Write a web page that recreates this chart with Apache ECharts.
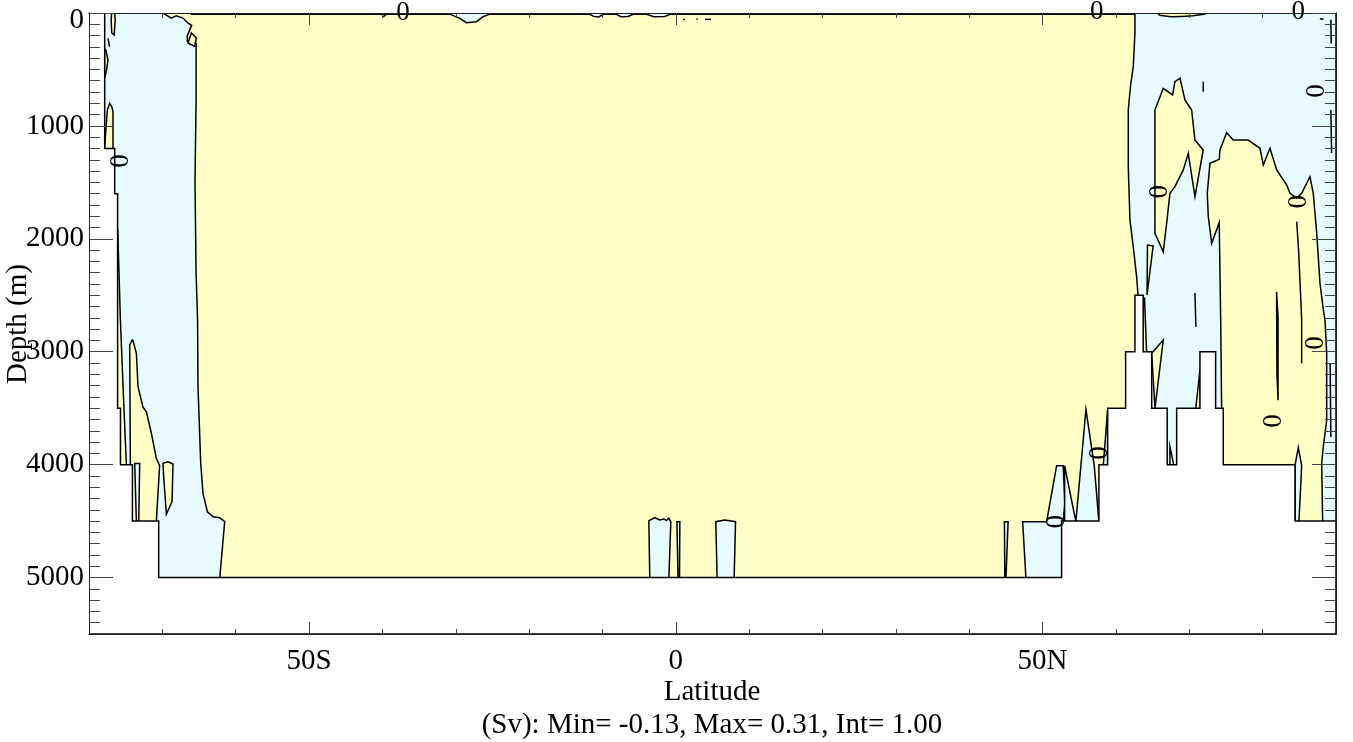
<!DOCTYPE html>
<html><head><meta charset="utf-8">
<script src="https://cdn.jsdelivr.net/npm/echarts@6/dist/echarts.min.js"></script>
<style>html,body{margin:0;padding:0;background:#fff}#c{width:1353px;height:742px}</style>
</head><body><div id="c"></div>
<script>
// ---------- axis ticks ----------
const xTickMajor = [-50, 0, 50];
const xTickMinor = [-70, -60, -40, -30, -20, -10, 10, 20, 30, 40, 60, 70, 80];
const yTickMajor = [0, 1000, 2000, 3000, 4000, 5000];
const yTickMinor = [100,200,300,400,500,600,700,800,900,1100,1200,1300,1400,1500,1600,1700,1800,1900,
  2100,2200,2300,2400,2500,2600,2700,2800,2900,3100,3200,3300,3400,3500,3600,3700,3800,3900,
  4100,4200,4300,4400,4500,4600,4700,4800,4900,5100,5200,5300,5400];

// ---------- bathymetry (latitude cell edges, bottom depth per cell) ----------
const bathyEdges  = [-80, -77.86, -76.5, -76.1, -75.71, -74.08, -70.5, 52.59, 57.68, 58.87, 61.32, 62.59, 63.72, 64.87, 66.99, 68.28, 71.45, 73.59, 74.63, 84.41, 90];
const bathyDepths = [0, 1200, 1600, 3500, 4000, 4500, 5000, 4500, 4000, 3500, 3000, 2500, 3000, 3500, 4000, 3500, 3000, 3500, 4000, 4500];

// ---------- negative (cyan) regions: [lat, depth] ----------
const surfaceLayer = [[-66.0,0],[62.59,0],[62.59,10],[-0.8,12],[-1.5,30],[-3.0,33],[-4.0,12],[-5.82,12],[-6.5,30],[-7.5,33],[-8.09,12],
  [-9.91,12],[-10.5,35],[-11.2,30],[-11.73,12],[-25.36,10],[-26.28,33],[-27.18,77],[-28.54,86],[-29.45,47],[-30.82,10],[-66.0,10]];
const cyanSouth = [[-80,0],[-69.9,0],[-68.8,45],[-68.1,25],[-67.2,45],[-66.5,90],[-66.0,110],[-66.6,200],[-66.6,250],[-66.0,265],
  [-65.4,270],[-65.4,770],[-65.55,1500],[-65.4,2300],[-65.2,2719],[-65.14,3310],[-64.77,3988],[-64.46,4254],[-63.86,4417],
  [-63.09,4461],[-62.18,4470],[-61.5,4505],[-62.18,5007],[-62.18,5100],[-80,5100]];
const cyanNorth = [[62.59,0],[62.59,180],[62.36,476],[62.0,638],[61.68,859],[61.68,1361],[61.91,1833],[62.36,2070],[62.82,2335],
  [63.04,2527],[63.72,2527],[63.72,4600],[90,4600],[90,0]];
const cyanBottom1 = [[-3.55,5007],[-3.68,4496],[-2.86,4470],[-2.18,4490],[-1.64,4481],[-1.27,4496],[-0.95,4475],[-0.68,4505],[-0.95,5007]];
const cyanBottom2 = [[0.15,4505],[0.55,4505],[0.5,5007],[0.3,5007]];
const cyanBottom3 = [[5.63,5007],[5.45,4505],[6.68,4490],[8.14,4505],[7.95,5007]];
const cyanBottom4 = [[44.8,4505],[45.3,4505],[45.0,5007],[44.85,5007]];
const cyanBottom5 = [[47.28,4505],[50.55,4505],[51.91,4009],[52.81,4009],[53.04,4342],[52.8,4505],[52.8,5100],[47.73,5007]];
const cyanSpikes = [[53.0,4009],[54.54,4505],[55.91,3510],[57.04,4009],[57.68,4505],[58.87,3510],[58.87,4600],[53.0,4600]];
const cyanInTongue = [[-73.77,3990],[-73.09,3990],[-73.22,4505],[-73.54,4505]];
const cyanSpike84 = [[84.41,4009],[84.86,3847],[85.32,4009],[84.95,4505],[84.45,4505]];
const cyanLens82 = [[81.9,2470],[82.1,2700],[82.1,3430],[81.95,3200]];

// ---------- positive (yellow) patches inside negative regions ----------
const yellowS1 = [[-76.91,0],[-76.5,0],[-76.43,62],[-76.57,195],[-76.9,177],[-76.98,62]];
const yellowS2 = [[-77.9,313],[-77.7,330],[-77.41,416],[-77.6,500],[-77.8,564],[-77.9,564]];
const yellowS3 = [[-77.9,1213],[-77.5,860],[-77.18,800],[-76.9,830],[-76.73,874],[-76.73,1213]];
const yellowS4 = [[-76.3,1922],[-76.09,1922],[-75.72,2719],[-75.3,3400],[-74.9,4009],[-76.3,4009]];
const yellowS5 = [[-74.45,2940],[-74.1,2896],[-74.0,2902],[-73.54,3014],[-73.32,3310],[-72.64,3492],[-72.18,3531],[-71.5,3722],
  [-70.82,3944],[-70.37,4009],[-70.82,4505],[-74.6,4505],[-74.36,4009]];
const yellowS6 = [[-69.91,3988],[-69.23,3974],[-68.55,3994],[-68.68,4328],[-69.45,4437],[-69.82,4107]];
const yellowS7 = [[-66.04,177],[-65.36,221],[-65.6,296],[-66.5,266]];
const yellowNTop = [[65.6,0],[72.5,0],[72,12],[70.5,25],[69,30],[67.5,33],[66.0,20]];
const yellowN1 = [[65.32,859],[66.45,667],[67.73,726],[68.04,608],[68.73,578],[69.41,770],[70.32,859],[70.77,1125],[71.9,1213],
  [70.77,1627],[69.86,1243],[69.18,1390],[68.04,1538],[67.36,1597],[66.91,1863],[66.45,2114],[65.32,1951]];
const yellowN2 = [[72.82,1331],[74.08,1296],[74.18,1213],[75.09,1060],[75.99,1125],[78.04,1125],[79.63,1198],[80.09,1346],
  [81.0,1198],[81.91,1390],[83.28,1523],[83.72,1597],[84.64,1638],[85.32,1597],[86.45,1450],[86.9,1597],[87.37,1951],
  [87.82,2394],[88.27,2630],[88.5,2719],[88.73,3014],[88.73,3605],[88.27,3841],[88.05,3988],[88.18,4505],[88.18,4600],
  [74.41,4600],[74.41,3510],[74.28,2719],[74.08,1857],[73.05,2040],[72.59,1804],[72.45,1597]];
const yellowN3 = [[64.3,2055],[65.07,2063],[64.24,2497]];
const yellowN4 = [[63.72,2527],[63.9,2527],[64.18,3014],[63.72,3014]];
const yellowN5 = [[64.87,3014],[66.45,2896],[65.32,3501]];
const yellowN6 = [[70.87,3510],[71.45,3162],[71.55,3510]];
const yellowN7 = [[67.36,3841],[67.9,4009],[67.36,4009]];

// ---------- isolated contour pieces ----------
const contourPieces = [
  [[84.64,1848],[84.9,2100],[85.32,2719],[85.32,3103]],
  [[70.77,2480],[70.9,2780]],
  [[-77.41,224],[-77.2,298]],
  [[71.9,608],[71.9,697]],
  [[89.3,60],[89.35,270]],
  [[89.3,860],[89.4,1240]],
  [[87.8,50],[88.3,55]],
  [[89.2,3100],[89.3,3755]],
  [[1.0,55],[1.2,62]],
  [[2.8,53],[3.0,53]],
  [[4.0,56],[4.8,56]],
  [[-39.9,35],[-39.4,8]]
];

// ---------- contour labels [lat, depth, rotated(1/0)] ----------
const zeroLabels = [[-37.2,-4,0],[57.37,-12,0],[84.86,-12,0],
  [-75.68,1311,1],[66.0,1583,1],[87.4,690,1],[84.95,1671,1],[87.27,2923,1],[81.55,3614,1],[57.82,3897,1],[51.9,4505,1]];

// ---------------------------------------------------------------
const YEL = '#ffffc6', CYA = '#e7fbff';
const landPts = [[-80, 5500]];
for (let i = 0; i < bathyDepths.length; i++) {
  landPts.push([bathyEdges[i], bathyDepths[i]]);
  landPts.push([bathyEdges[i + 1], bathyDepths[i]]);
}
landPts.push([90, 5500]);

const layers = [
  {pts: [[-80,0],[90,0],[90,5500],[-80,5500]], fill: YEL, stroke: null},
  {pts: surfaceLayer, fill: CYA},
  {pts: cyanSouth, fill: CYA},
  {pts: cyanNorth, fill: CYA},
  {pts: cyanBottom1, fill: CYA},
  {pts: cyanBottom2, fill: CYA},
  {pts: cyanBottom3, fill: CYA},
  {pts: cyanBottom4, fill: CYA},
  {pts: cyanBottom5, fill: CYA},
  {pts: cyanSpikes, fill: CYA},
  {pts: yellowS1, fill: YEL}, {pts: yellowS2, fill: YEL}, {pts: yellowS3, fill: YEL},
  {pts: yellowS4, fill: YEL}, {pts: yellowS5, fill: YEL}, {pts: yellowS6, fill: YEL}, {pts: yellowS7, fill: YEL},
  {pts: yellowNTop, fill: YEL}, {pts: yellowN1, fill: YEL}, {pts: yellowN2, fill: YEL},
  {pts: yellowN3, fill: YEL}, {pts: yellowN4, fill: YEL}, {pts: yellowN5, fill: YEL},
  {pts: yellowN6, fill: YEL}, {pts: yellowN7, fill: YEL},
  {pts: cyanInTongue, fill: CYA}, {pts: cyanSpike84, fill: CYA}, {pts: cyanLens82, fill: CYA}
];
contourPieces.forEach(p => layers.push({pts: p, line: true}));
layers.push({pts: landPts, fill: '#ffffff'});

const FONT = '"Liberation Serif", "DejaVu Serif", serif';
const chart = echarts.init(document.getElementById('c'), null, {renderer: 'canvas'});

function xAx(pos, vals, len, labels) {
  return {type: 'value', min: -80, max: 90, position: pos, z: 10,
    axisLine: {show: true, onZero: false, lineStyle: {color: '#222', width: 1}},
    axisTick: {show: true, inside: true, length: len, customValues: vals, lineStyle: {color: '#444', width: 1}},
    axisLabel: labels ? {show: true, customValues: vals, margin: 13, color: '#000', fontFamily: FONT, fontSize: 29,
      formatter: v => v < 0 ? (-v) + 'S' : (v > 0 ? v + 'N' : '0')} : {show: false},
    splitLine: {show: false}};
}
function yAx(pos, vals, len, labels) {
  return {type: 'value', min: 0, max: 5500, inverse: true, position: pos, z: 10,
    axisLine: {show: true, onZero: false, lineStyle: {color: '#222', width: 1}},
    axisTick: {show: true, inside: true, length: len, customValues: vals, lineStyle: {color: '#444', width: 1}},
    axisLabel: labels ? {show: true, customValues: vals, margin: 5, color: '#000', fontFamily: FONT, fontSize: 29,
      formatter: v => v === 0 ? '{z|0}' : String(v),
      rich: {z: {padding: [14, 0, 0, 0], fontFamily: FONT, fontSize: 29, color: '#000'}}} : {show: false},
    splitLine: {show: false}};
}

chart.setOption({
  animation: false,
  backgroundColor: '#fff',
  grid: {left: 89, right: 17, top: 13, bottom: 108, containLabel: false, outerBoundsMode: 'none'},
  xAxis: [xAx('bottom', xTickMajor, 12, true), xAx('bottom', xTickMinor, 5, false),
          xAx('top', xTickMajor, 12, false), xAx('top', xTickMinor, 5, false)],
  yAxis: [yAx('left', yTickMajor, 24, true), yAx('left', yTickMinor, 11, false),
          yAx('right', yTickMajor, 24, false), yAx('right', yTickMinor, 11, false)],
  graphic: [
    {type: 'text', x: 712, y: 692, z: 20, style: {text: 'Latitude', font: '29px ' + FONT, fill: '#000',
      textAlign: 'center', textVerticalAlign: 'middle', align: 'center', verticalAlign: 'middle'}},
    {type: 'text', x: 712, y: 725, z: 20, style: {text: '(Sv): Min= -0.13, Max= 0.31, Int= 1.00', font: '29px ' + FONT, fill: '#000',
      textAlign: 'center', textVerticalAlign: 'middle', align: 'center', verticalAlign: 'middle'}},
    {type: 'text', x: 18, y: 324, rotation: Math.PI / 2, z: 20, style: {text: 'Depth (m)', font: '29px ' + FONT, fill: '#000',
      textAlign: 'center', textVerticalAlign: 'middle', align: 'center', verticalAlign: 'middle'}}
  ],
  series: [
    {type: 'custom', coordinateSystem: 'cartesian2d', xAxisIndex: 0, yAxisIndex: 0, silent: true, clip: true,
      data: layers.map(l => l.pts[0]),
      renderItem: function (params, api) {
        const L = layers[params.dataIndex];
        const pts = L.pts.map(p => api.coord(p));
        if (L.line) {
          return {type: 'polyline', z2: params.dataIndex, shape: {points: pts},
            style: {fill: null, stroke: '#000', lineWidth: 1.5}};
        }
        return {type: 'polygon', z2: params.dataIndex, shape: {points: pts},
          style: {fill: L.fill, stroke: L.stroke === null ? null : '#000', lineWidth: 1.5, lineJoin: 'miter'}};
      }},
    {type: 'custom', coordinateSystem: 'cartesian2d', xAxisIndex: 0, yAxisIndex: 0, silent: true, clip: false, z: 5,
      data: zeroLabels.map(l => [l[0], l[1]]),
      renderItem: function (params, api) {
        const L = zeroLabels[params.dataIndex];
        const c = api.coord([L[0], L[1]]);
        return {type: 'text', x: c[0], y: c[1], rotation: L[2] ? Math.PI / 2 : 0,
          style: {text: '0', font: '27px ' + FONT, fill: '#000', textAlign: 'center', textVerticalAlign: 'middle',
            align: 'center', verticalAlign: 'middle'}};
      }}
  ]
});
</script></body></html>
